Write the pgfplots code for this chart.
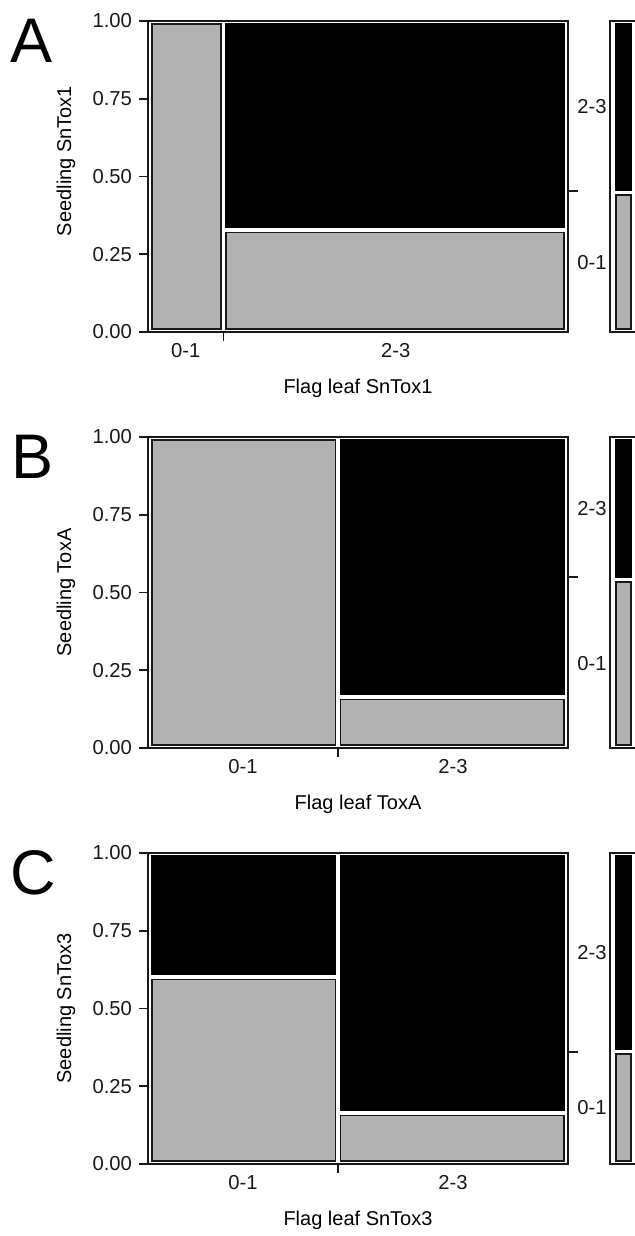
\documentclass[border=0pt]{standalone}
\usepackage{pgfplots}
\pgfplotsset{compat=1.18}
\usepackage{fontspec}
\setmainfont{Liberation Sans}
\definecolor{tilegray}{RGB}{178,178,178}
\definecolor{txt}{RGB}{25,25,25}
\pgfplotsset{
  common/.style={scale only axis, height=155.5pt, xmin=0, xmax=1, ymin=0, ymax=1,
    tick label style={font=\fontsize{10.1}{12}\selectfont, text=txt},
    tick style={line width=0.8pt, draw=black!90}},
  mainax/.style={common, width=210pt,
    axis line style={line width=0.9pt, draw=black!90},
    tick align=outside, major tick length=4.5pt,
    ytick={0,0.25,0.5,0.75,1}, yticklabels={0.00,0.25,0.50,0.75,1.00},
    ytick pos=left, xtick pos=bottom, xticklabels={},
    xlabel style={font=\fontsize{10.5}{12}\selectfont, text=txt},
    ylabel style={font=\fontsize{9.8}{12}\selectfont, text=txt},
    every axis y label/.style={at={(axis description cs:0,0.5)}, xshift=-41pt, rotate=90, anchor=center},
    every axis x label/.style={at={(axis description cs:0.5,0)}, yshift=-28pt, anchor=center}},
  labax/.style={common, width=210pt, axis line style={draw=none},
    tick align=outside, major tick length=5pt, xtick style={draw=none},
    ytick pos=right, xtick pos=bottom, yticklabels={},
    xticklabel style={yshift=3pt}},
  margax/.style={common, width=13.5pt,
    axis line style={line width=0.9pt, draw=black!90},
    xtick=\empty, ytick pos=left, major tick length=0pt, ytick style={draw=none},
    yticklabels={0-1,2-3}, yticklabel style={inner xsep=1.5pt}},
  tile/.style={draw=black!90, line width=0.75pt, fill=tilegray, mark=none, line join=miter},
  dtile/.style={draw=black, line width=0.75pt, fill=black, mark=none, line join=miter},
}
\begin{document}
\begin{tikzpicture}
% ---------------- Panel A ----------------
\node[font=\fontsize{31.5}{31.5}\selectfont, text=black] at (16pt,-20.5pt) {A};
\begin{axis}[mainax, at={(74pt,-166pt)}, anchor=south west, xtick={0.18},
  xlabel={Flag leaf SnTox1}, ylabel={Seedling SnTox1},
  ylabel style={at={(axis description cs:0,0.55)}}]
  \addplot[tile]  coordinates {(0.0095,0.0095) (0.174,0.0095) (0.174,0.9905) (0.0095,0.9905)} -- cycle;
  \addplot[tile]  coordinates {(0.186,0.0095) (0.9905,0.0095) (0.9905,0.320) (0.186,0.320)} -- cycle;
  \addplot[dtile] coordinates {(0.186,0.336) (0.9905,0.336) (0.9905,0.9905) (0.186,0.9905)} -- cycle;
\end{axis}
\begin{axis}[labax, at={(74pt,-166pt)}, anchor=south west,
  xtick={0.09,0.59}, xticklabels={0-1,2-3}, ytick={0.453}]
\end{axis}
\begin{axis}[margax, at={(305pt,-166pt)}, anchor=south west, ytick={0.2245,0.7245}]
  \addplot[tile]  coordinates {(0.222,0.0095) (0.778,0.0095) (0.778,0.441) (0.222,0.441)} -- cycle;
  \addplot[dtile] coordinates {(0.222,0.457) (0.778,0.457) (0.778,0.9905) (0.222,0.9905)} -- cycle;
\end{axis}
% ---------------- Panel B ----------------
\node[font=\fontsize{31.5}{31.5}\selectfont, text=black] at (16.5pt,-228.5pt) {B};
\begin{axis}[mainax, at={(74pt,-374pt)}, anchor=south west, xtick={0.452},
  xlabel={Flag leaf ToxA}, ylabel={Seedling ToxA}]
  \addplot[tile]  coordinates {(0.0095,0.0095) (0.446,0.0095) (0.446,0.9905) (0.0095,0.9905)} -- cycle;
  \addplot[tile]  coordinates {(0.458,0.0095) (0.9905,0.0095) (0.9905,0.156) (0.458,0.156)} -- cycle;
  \addplot[dtile] coordinates {(0.458,0.172) (0.9905,0.172) (0.9905,0.9905) (0.458,0.9905)} -- cycle;
\end{axis}
\begin{axis}[labax, at={(74pt,-374pt)}, anchor=south west,
  xtick={0.226,0.726}, xticklabels={0-1,2-3}, ytick={0.55}]
\end{axis}
\begin{axis}[margax, at={(305pt,-374pt)}, anchor=south west, ytick={0.271,0.771}]
  \addplot[tile]  coordinates {(0.222,0.0095) (0.778,0.0095) (0.778,0.534) (0.222,0.534)} -- cycle;
  \addplot[dtile] coordinates {(0.222,0.550) (0.778,0.550) (0.778,0.9905) (0.222,0.9905)} -- cycle;
\end{axis}
% ---------------- Panel C ----------------
\node[font=\fontsize{31.5}{31.5}\selectfont, text=black] at (16.5pt,-436.5pt) {C};
\begin{axis}[mainax, at={(74pt,-582pt)}, anchor=south west, xtick={0.452},
  xlabel={Flag leaf SnTox3}, ylabel={Seedling SnTox3}]
  \addplot[tile]  coordinates {(0.0095,0.0095) (0.446,0.0095) (0.446,0.593) (0.0095,0.593)} -- cycle;
  \addplot[dtile] coordinates {(0.0095,0.609) (0.446,0.609) (0.446,0.9905) (0.0095,0.9905)} -- cycle;
  \addplot[tile]  coordinates {(0.458,0.0095) (0.9905,0.0095) (0.9905,0.156) (0.458,0.156)} -- cycle;
  \addplot[dtile] coordinates {(0.458,0.172) (0.9905,0.172) (0.9905,0.9905) (0.458,0.9905)} -- cycle;
\end{axis}
\begin{axis}[labax, at={(74pt,-582pt)}, anchor=south west,
  xtick={0.226,0.726}, xticklabels={0-1,2-3}, ytick={0.36}]
\end{axis}
\begin{axis}[margax, at={(305pt,-582pt)}, anchor=south west, ytick={0.181,0.681}]
  \addplot[tile]  coordinates {(0.222,0.0095) (0.778,0.0095) (0.778,0.354) (0.222,0.354)} -- cycle;
  \addplot[dtile] coordinates {(0.222,0.370) (0.778,0.370) (0.778,0.9905) (0.222,0.9905)} -- cycle;
\end{axis}
\pgfresetboundingbox
\path[use as bounding box] (0pt,0pt) rectangle (317pt,-618pt);
\end{tikzpicture}
\end{document}
